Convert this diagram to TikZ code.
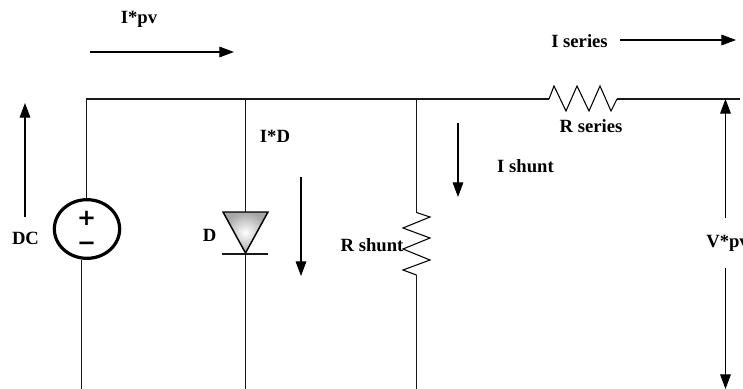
\documentclass[tikz,border=0pt]{standalone}
\usepackage{fontspec}
\setmainfont{Liberation Serif}
\newfontfamily\signfont{DejaVu Sans}
\usetikzlibrary{shapes,positioning,calc,arrows.meta}

\begin{document}
\begin{tikzpicture}[x=0.75pt,y=-0.75pt,
                wire/.style={line width=0.9pt,black!90},
                zigzag/.style={line width=0.8pt,line join=miter},
                flow/.style={line width=0.8pt,-{Triangle[length=11pt,width=8pt]}},
                lbl/.style={font=\fontsize{14}{16}\selectfont\bfseries,inner sep=0pt},
                sign/.style={font=\signfont\fontsize{17}{17}\selectfont\bfseries,inner sep=0pt},
                source/.style={ellipse,draw,line width=2.4pt,minimum width=49pt,minimum height=44pt,inner sep=0pt}
            ]
                \useasboundingbox (0,0) rectangle (743,389);
                % corners of the circuit
                \coordinate (topL) at (86.5,99);
                \coordinate (topD) at (245.5,99);
                \coordinate (topS) at (416.5,99);
                \coordinate (rsIn) at (549,99);
                \coordinate (rsOut) at (617,99);
                \coordinate (topR) at (740,99);
                \coordinate (botL) at (81.5,389);
                \coordinate (botD) at (245.5,389);
                \coordinate (botS) at (416.5,389);
                % source
                \node[source] (dcsrc) at (87,229) {};
                \node[sign] (plus) at (86.5,218) {+};
                \node[sign] (minus) at (86.5,246) {\textminus};
                \coordinate (srcB) at (81.5,260);
                \draw[wire] (topR) -- (rsOut);
                \draw[wire] (rsIn) -- (topL) -- (dcsrc.north -| topL);
                \draw[wire] (srcB) -- (botL);
                % diode
                \coordinate (dTop) at (245.5,212);
                \coordinate (dTipL) at (223,212);
                \coordinate (dTipR) at (268,212);
                \coordinate (dApex) at (245.5,253);
                \coordinate (dBarL) at (222,254);
                \coordinate (dBarR) at (268,254);
                \draw[line width=1.1pt,line join=miter,inner color=white,outer color=black!35] (dTipL) -- (dTipR) -- (dApex) -- cycle;
                \draw[wire] (topD) -- (dTop);
                \draw[wire] (dBarL) -- (dBarR);
                \draw[wire] (dApex) -- (botD);
                % resistors
                \draw[zigzag] (rsIn) -- (554,86) -- (566,111) -- (577,86) -- (589,111) -- (600,86) -- (611,111) -- (rsOut);
                \coordinate (rshIn) at (416.5,212.5);
                \coordinate (rshOut) at (416.5,275);
                \draw[wire] (topS) -- (rshIn);
                \draw[zigzag] (rshIn) -- (430,217) -- (403,228) -- (430,238) -- (403,249) -- (430,260) -- (403,270) -- (rshOut);
                \draw[wire] (rshOut) -- (botS);
                % labels
                \node[lbl] (ipv) at (139,19) {I*pv};
                \node[lbl] (iser) at (579.5,41) {I series};
                \node[lbl] (rser) at (591,126) {R series};
                \node[lbl] (id) at (275,136) {I*D};
                \node[lbl] (ishunt) at (525.5,166) {I shunt};
                \node[lbl] (rshunt) at (372,245) {R shunt};
                \node[lbl] (dlbl) at (209.5,235) {D};
                \node[lbl] (dclbl) at (25.5,238) {DC};
                \node[lbl,anchor=west] (vpv) at (706,243) {V*pv};
                % arrows
                \coordinate (ipvA) at (90,52);
                \coordinate (ipvB) at (234,52);
                \coordinate (iserA) at (620,40);
                \coordinate (iserB) at (736,40);
                \coordinate (idA) at (301,177);
                \coordinate (idB) at (301,276);
                \coordinate (ishA) at (458,123);
                \coordinate (ishB) at (458,197);
                \coordinate (dcA) at (25,217);
                \coordinate (dcB) at (25,103);
                \coordinate (vUp) at (725.5,218);
                \coordinate (vTop) at (725.5,99);
                \coordinate (vDn) at (725.5,268);
                \coordinate (vBot) at (725.5,389);
                \draw[flow] (ipvA) -- (ipvB);
                \draw[flow] (iserA) -- (iserB);
                \draw[flow] (idA) -- (idB);
                \draw[flow] (ishA) -- (ishB);
                \draw[flow] (dcA) -- (dcB);
                \draw[flow] (vUp) -- (vTop);
                \draw[flow] (vDn) -- (vBot);
            \end{tikzpicture}
\end{document}
